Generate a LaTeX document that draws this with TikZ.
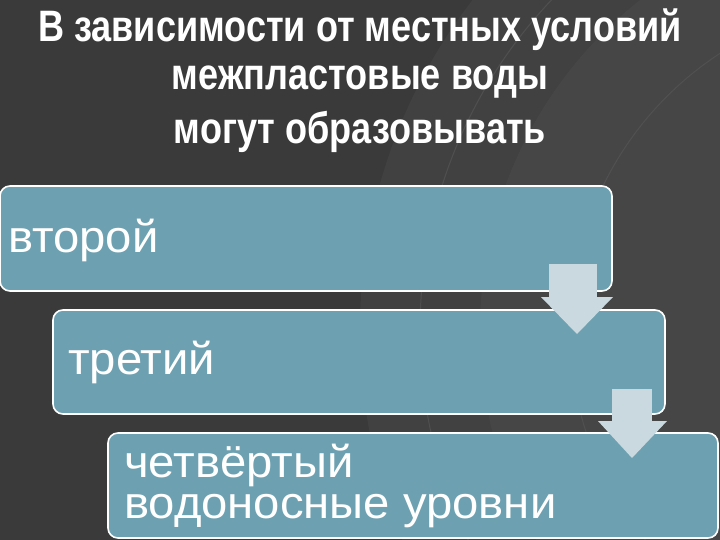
\documentclass[tikz,border=0pt]{standalone}
\usepackage{fontspec}
\setmainfont{Liberation Sans}
\begin{document}
\begin{tikzpicture}[x=1pt,y=-1pt,
  box/.style={draw=white,line width=1.6pt,rounded corners=10pt,fill=boxc},
  stem/.style={fill=arrc},
  ttl/.style={text=white,font=\bfseries\fontsize{44}{48}\selectfont,anchor=center},
  lbl/.style={text=white,font=\fontsize{45}{50}\selectfont,anchor=west,inner sep=0pt}]
\definecolor{bg}{HTML}{3A3A3A}
\definecolor{boxc}{HTML}{6DA1B1}
\definecolor{arrc}{HTML}{C9D9DF}
\useasboundingbox (0,0) rectangle (720,540);
\fill[bg] (0,0) rectangle (720,540);
\begin{scope}
\clip (0,0) rectangle (720,540);
\fill[white,opacity=0.04] (900,330) circle (540);
\fill[white,opacity=0.03] (900,330) circle (420);
\draw[white,opacity=0.08,line width=1pt] (900,330) circle (480);
\draw[white,opacity=0.06,line width=1pt] (900,330) circle (330);
\end{scope}
\node[ttl] (t1) at (360,30) {\scalebox{0.82}[1]{В зависимости от местных условий}};
\node[ttl] (t2) at (360,82) {\scalebox{0.82}[1]{межпластовые воды}};
\node[ttl] (t3) at (360,132) {\scalebox{0.82}[1]{могут образовывать}};
\draw[box] (0,186) rectangle (612,291);
\draw[box] (53,310) rectangle (665,414);
\draw[box] (108,433) rectangle (718,538);
\node[lbl] (b1) at (8,240) {\scalebox{1.05}[1]{второй}};
\node[lbl] (b2) at (68,362) {\scalebox{1.05}[1]{третий}};
\node[lbl] (b3a) at (124,465) {\scalebox{1.05}[1]{четвёртый}};
\node[lbl] (b3b) at (124,511) {\scalebox{1.05}[1]{водоносные уровни}};
\fill[stem] (549,264) rectangle (597,297);
\fill[arrc] (541,297) -- (613,297) -- (577,334) -- cycle;
\fill[stem] (612,389) rectangle (652,421);
\fill[arrc] (598,421) -- (667,421) -- (632,458) -- cycle;
\end{tikzpicture}
\end{document}
